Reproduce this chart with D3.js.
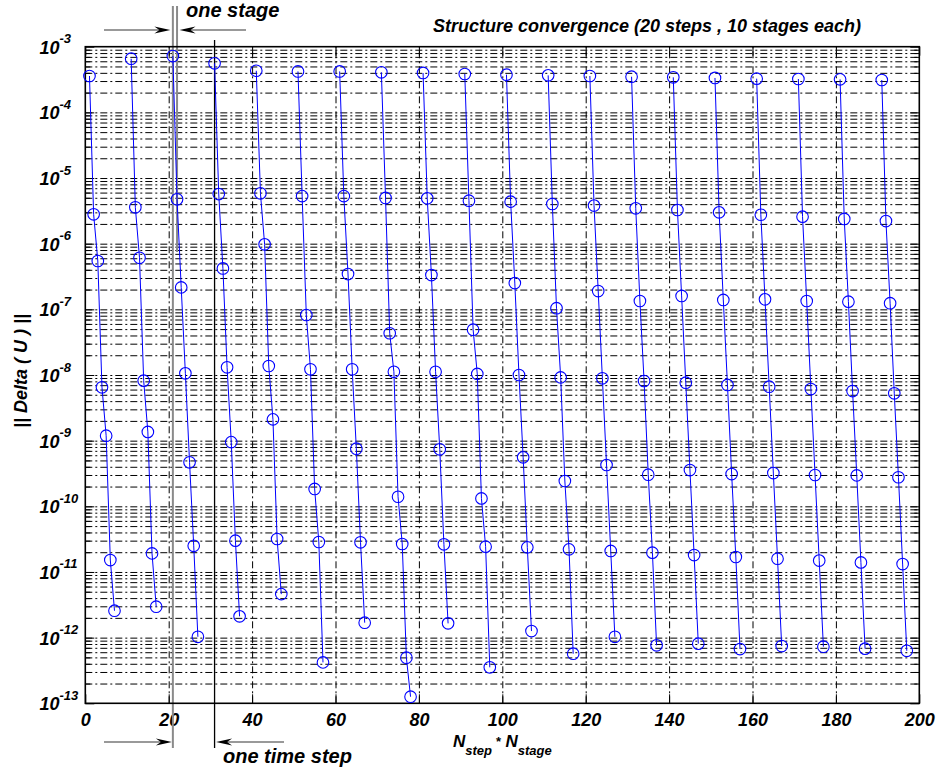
<!DOCTYPE html>
<html>
<head>
<meta charset="utf-8">
<script src="https://cdn.jsdelivr.net/npm/d3@7"></script>
<style>
  body { margin: 0; background: #fff; }
  text { font-family: "Liberation Sans", Arial, Helvetica, sans-serif; font-weight: bold; font-style: italic; fill: #000; }
</style>
</head>
<body>
<svg id="chart" width="938" height="771"></svg>
<script>
// ---- data: residual norm per stage, one array per time step ----
const stepStart = [0, 10, 20, 30, 40, 50, 60, 70, 80, 90, 100, 110, 120, 130, 140, 150, 160, 170, 180, 190];
const stageNo = [1, 2, 3, 4, 5, 6, 7, 8];

const step01 = [3.58e-4, 2.80e-6, 5.45e-7, 6.5e-9, 1.19e-9, 1.52e-11, 2.57e-12];
const step02 = [6.56e-4, 3.58e-6, 6.1e-7, 8.2e-9, 1.36e-9, 1.92e-11, 2.96e-12];
const step03 = [7.2e-4, 4.74e-6, 2.16e-7, 1.06e-8, 4.68e-10, 2.5e-11, 1.03e-12];
const step04 = [5.58e-4, 5.7e-6, 4.2e-7, 1.31e-8, 9.5e-10, 3.0e-11, 2.11e-12];
const step05 = [4.3e-4, 5.85e-6, 9.77e-7, 1.37e-8, 2.11e-9, 3.18e-11, 4.6e-12];
const step06 = [4.2e-4, 5.3e-6, 8.2e-8, 1.22e-8, 1.84e-10, 2.86e-11, 4.2e-13];
const step07 = [4.2e-4, 5.3e-6, 3.45e-7, 1.22e-8, 7.55e-10, 2.83e-11, 1.69e-12];
const step08 = [4.07e-4, 4.97e-6, 4.32e-8, 1.12e-8, 1.4e-10, 2.67e-11, 4.95e-13, 1.26e-13];
const step09 = [3.98e-4, 4.9e-6, 3.33e-7, 1.12e-8, 7.38e-10, 2.64e-11, 1.65e-12];
const step10 = [3.84e-4, 4.52e-6, 4.9e-8, 1.04e-8, 1.32e-10, 2.43e-11, 3.53e-13];
const step11 = [3.75e-4, 4.37e-6, 2.51e-7, 1.0e-8, 5.57e-10, 2.37e-11, 1.26e-12];
const step12 = [3.66e-4, 4.02e-6, 1.04e-7, 9.2e-9, 2.43e-10, 2.21e-11, 5.69e-13];
const step13 = [3.58e-4, 3.8e-6, 1.9e-7, 8.9e-9, 4.26e-10, 2.09e-11, 1.03e-12];
const step14 = [3.49e-4, 3.46e-6, 1.34e-7, 8.1e-9, 3.03e-10, 1.97e-11, 7.64e-13];
const step15 = [3.42e-4, 3.26e-6, 1.6e-7, 7.64e-9, 3.57e-10, 1.81e-11, 8.1e-13];
const step16 = [3.34e-4, 3.0e-6, 1.39e-7, 7.05e-9, 3.1e-10, 1.69e-11, 6.7e-13];
const step17 = [3.26e-4, 2.76e-6, 1.42e-7, 6.64e-9, 3.21e-10, 1.59e-11, 7.45e-13];
const step18 = [3.22e-4, 2.58e-6, 1.34e-7, 6.12e-9, 3.0e-10, 1.49e-11, 7.28e-13];
const step19 = [3.18e-4, 2.38e-6, 1.31e-7, 5.7e-9, 2.96e-10, 1.4e-11, 6.8e-13];
const step20 = [3.11e-4, 2.21e-6, 1.24e-7, 5.26e-9, 2.77e-10, 1.32e-11, 6.3e-13];
const steps = [step01, step02, step03, step04, step05, step06, step07, step08, step09, step10,
               step11, step12, step13, step14, step15, step16, step17, step18, step19, step20];

// ---- axis ticks and labels ----
const xTicks = [0, 20, 40, 60, 80, 100, 120, 140, 160, 180, 200];
const yDecades = [1e-13, 1e-12, 1e-11, 1e-10, 1e-9, 1e-8, 1e-7, 1e-6, 1e-5, 1e-4, 1e-3];
const yExponents = ["-13", "-12", "-11", "-10", "-9", "-8", "-7", "-6", "-5", "-4", "-3"];
const titleText = "Structure convergence (20 steps , 10 stages each)";
const yLabel = "|| Delta ( U ) ||";
// annotation markers (stage index positions)
const stageLineA = 21, stageLineB = 22, timeStepLine = 31;

// ---- layout ----
const svg = d3.select("#chart");
const x = d3.scaleLinear().domain([0, 200]).range([85.3, 919.3]);
const y = d3.scaleLog().domain([1e-13, 1e-3]).range([703.3, 46.7]);
const [x0, x1] = x.range();
const [yb, yt] = y.range();
const plotW = x1 - x0, plotH = yb - yt;

const dash = "7,3,2,3";

// horizontal grid at every minor/major log tick
const yAll = y.ticks(20).filter(v => v > 1.0001e-13 && v < 0.9999e-3);
const hGrid = svg.append("g").attr("transform", `translate(${x0},0)`)
  .call(d3.axisLeft(y).tickValues(yAll).tickSize(-plotW).tickFormat(""));
hGrid.select(".domain").remove();
hGrid.selectAll("line").attr("stroke", "#000").attr("stroke-width", 1).attr("stroke-dasharray", dash);

// vertical grid
const vGrid = svg.append("g").attr("transform", `translate(0,${yb})`)
  .call(d3.axisBottom(x).tickValues(xTicks.slice(1, -1)).tickSize(-plotH).tickFormat(""));
vGrid.select(".domain").remove();
vGrid.selectAll("line").attr("stroke", "#000").attr("stroke-width", 1).attr("stroke-dasharray", dash);

// inner tick marks, all four sides
const isDecade = v => Math.abs(Math.log10(v) - Math.round(Math.log10(v))) < 1e-6;
const yMinor = yAll.filter(v => !isDecade(v));
function tickGroup(axis, tx, ty) {
  const g = svg.append("g").attr("transform", `translate(${tx},${ty})`).call(axis);
  g.select(".domain").remove();
  g.selectAll("line").attr("stroke", "#000").attr("stroke-width", 1);
  return g;
}
tickGroup(d3.axisLeft(y).tickValues(yMinor).tickSize(-5).tickFormat(""), x0, 0);
tickGroup(d3.axisRight(y).tickValues(yMinor).tickSize(-5).tickFormat(""), x1, 0);
tickGroup(d3.axisLeft(y).tickValues(yDecades).tickSize(-9).tickFormat(""), x0, 0);
tickGroup(d3.axisRight(y).tickValues(yDecades).tickSize(-9).tickFormat(""), x1, 0);
tickGroup(d3.axisBottom(x).tickValues(xTicks).tickSize(-9).tickFormat(""), 0, yb);
tickGroup(d3.axisTop(x).tickValues(xTicks).tickSize(-9).tickFormat(""), 0, yt);

// x tick labels
const xLab = svg.append("g").attr("transform", `translate(0,${yb})`)
  .call(d3.axisBottom(x).tickValues(xTicks).tickSize(0).tickPadding(10).tickFormat(d3.format("d")));
xLab.select(".domain").remove();
xLab.selectAll("text").attr("font-size", 18).attr("fill", "#000")
  .style("font-family", "'Liberation Sans', Arial, sans-serif");

// y tick labels as 10^n
const yLab = svg.append("g").attr("transform", `translate(${x0},0)`)
  .call(d3.axisLeft(y).tickValues(yDecades).tickSize(0).tickFormat(""));
yLab.select(".domain").remove();
yLab.selectAll(".tick").each(function (d, i) {
  const t = d3.select(this).append("text")
    .attr("x", 39.5 - x0).attr("y", 6.5).attr("text-anchor", "start")
    .attr("font-size", 18).attr("fill", "#000");
  t.append("tspan").text("10");
  t.append("tspan").attr("dy", -10.5).attr("font-size", 13).text(yExponents[i]);
});

// annotation lines behind the data
const ann = svg.append("g");
ann.append("line").attr("x1", x(stageLineA)).attr("x2", x(stageLineA)).attr("y1", 6).attr("y2", 748)
  .attr("stroke", "#8a8a8a").attr("stroke-width", 2);
ann.append("line").attr("x1", x(stageLineB)).attr("x2", x(stageLineB)).attr("y1", 6).attr("y2", 252)
  .attr("stroke", "#8a8a8a").attr("stroke-width", 2);
ann.append("line").attr("x1", x(timeStepLine)).attr("x2", x(timeStepLine)).attr("y1", 40).attr("y2", 748)
  .attr("stroke", "#000").attr("stroke-width", 1.3);

// frame
svg.append("rect").attr("x", x0).attr("y", yt).attr("width", plotW).attr("height", plotH)
  .attr("fill", "none").attr("stroke", "#000").attr("stroke-width", 1.6);

// data: one polyline with circle markers per time step
const line = d3.line().x(d => x(d[0])).y(d => y(d[1]));
const dataG = svg.append("g");
steps.forEach((vals, s) => {
  const pts = vals.map((v, j) => [stepStart[s] + stageNo[j], v]);
  dataG.append("path").attr("d", line(pts)).attr("fill", "none")
    .attr("stroke", "#0000ff").attr("stroke-width", 1);
  dataG.selectAll(null).data(pts).enter().append("circle")
    .attr("cx", d => x(d[0])).attr("cy", d => y(d[1])).attr("r", 5.8)
    .attr("fill", "none").attr("stroke", "#0000ff").attr("stroke-width", 1.1);
});

// arrows
function arrow(fromX, tipX, yy) {
  const dir = Math.sign(tipX - fromX);
  ann.append("line").attr("x1", fromX).attr("x2", tipX - dir * 10).attr("y1", yy).attr("y2", yy)
    .attr("stroke", "#777").attr("stroke-width", 1.4);
  const L = 16, hw = 3.6, notch = 11;
  ann.append("path")
    .attr("d", `M${tipX},${yy} L${tipX - dir * L},${yy - hw} L${tipX - dir * notch},${yy} L${tipX - dir * L},${yy + hw} Z`)
    .attr("fill", "#000");
}
arrow(104, x(stageLineA) - 2.5, 30);
arrow(246, x(stageLineB) + 2.5, 30);
arrow(104, x(stageLineA) - 1, 742);
arrow(284, x(timeStepLine) + 1.5, 742);

svg.append("text").attr("x", 186).attr("y", 17).attr("font-size", 20).text("one stage");
svg.append("text").attr("x", 223).attr("y", 763).attr("font-size", 20).text("one time step");

// title
svg.append("text").attr("x", 647).attr("y", 32).attr("text-anchor", "middle")
  .attr("font-size", 18).text(titleText);

// x label: N_step * N_stage
const xl = svg.append("text").attr("x", x(100)).attr("y", 747).attr("text-anchor", "middle").attr("font-size", 17);
xl.append("tspan").text("N");
xl.append("tspan").attr("dy", 8).attr("font-size", 13).text("step");
xl.append("tspan").attr("dy", -9).attr("font-size", 13).text(" *");
xl.append("tspan").attr("dy", 1).text(" N");
xl.append("tspan").attr("dy", 8).attr("font-size", 13).text("stage");

// y label
svg.append("text").attr("transform", "translate(27,371) rotate(-90)")
  .attr("text-anchor", "middle").attr("font-size", 18).text(yLabel);
</script>
</body>
</html>
